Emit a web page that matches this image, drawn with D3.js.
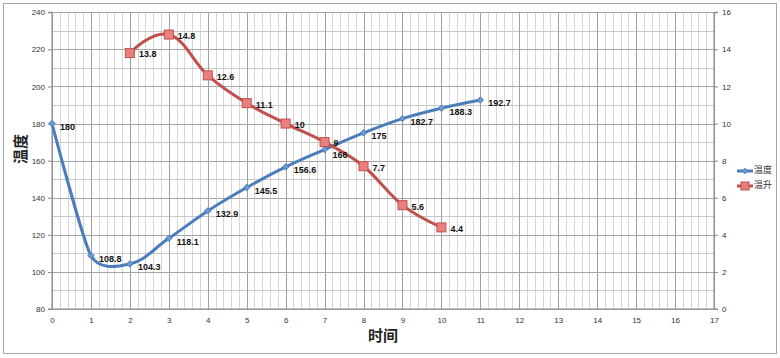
<!DOCTYPE html>
<html><head><meta charset="utf-8">
<script src="https://cdn.jsdelivr.net/npm/d3@7"></script>
<style>body{margin:0;background:#fff}svg{display:block}</style>
</head><body><svg id="c" width="780" height="358"></svg>
<script>
const xTicks = d3.range(0, 18);
const leftTicks = [80,100,120,140,160,180,200,220,240];
const rightTicks = [0,2,4,6,8,10,12,14,16];
const tempX = [0,1,2,3,4,5,6,7,8,9,10,11];
const tempY = [180,108.8,104.3,118.1,132.9,145.5,156.6,166,175,182.7,188.3,192.7];
const riseX = [2,3,4,5,6,7,8,9,10];
const riseY = [13.8,14.8,12.6,11.1,10,9,7.7,5.6,4.4];
const seriesNames = ["温度","温升"];
const xTitle = "时间", yTitle = "温度";

const svg = d3.select("#c");
const L = 52, R = 714, T = 12.3, B = 309;
const x = d3.scaleLinear().domain([0,17]).range([L,R]);
const yL = d3.scaleLinear().domain([80,240]).range([B,T]);
const yR = d3.scaleLinear().domain([0,16]).range([B,T]);
const font = "'Liberation Sans', Arial, sans-serif";
const cjk = "'Noto Sans CJK SC', sans-serif";

svg.append("rect").attr("x",3.5).attr("y",3.5).attr("width",773).attr("height",350)
  .attr("fill","#fff").attr("stroke","#a6a6a6").attr("stroke-width",1);

const g = svg.append("g");
const minorX = d3.range(0, 17*5+1).map(i=>i/5).filter(v=>Math.abs(v-Math.round(v))>1e-6);
g.selectAll(".mvx").data(minorX).enter().append("line")
  .attr("x1",d=>Math.round(x(d))+0.5).attr("x2",d=>Math.round(x(d))+0.5).attr("y1",T).attr("y2",B)
  .attr("stroke","#d6d6d6").attr("stroke-width",1);
const minorY = d3.range(90,240,20);
g.selectAll(".mhy").data(minorY).enter().append("line")
  .attr("x1",L).attr("x2",R).attr("y1",d=>Math.round(yL(d))+0.5).attr("y2",d=>Math.round(yL(d))+0.5)
  .attr("stroke","#c8c8c8").attr("stroke-width",1);
g.selectAll(".Mx").data(xTicks).enter().append("line")
  .attr("x1",d=>Math.round(x(d))+0.5).attr("x2",d=>Math.round(x(d))+0.5).attr("y1",T).attr("y2",B)
  .attr("stroke","#9f9f9f").attr("stroke-width",1);
g.selectAll(".My").data(leftTicks).enter().append("line")
  .attr("x1",L).attr("x2",R).attr("y1",d=>Math.round(yL(d))+0.5).attr("y2",d=>Math.round(yL(d))+0.5)
  .attr("stroke","#a6a6a6").attr("stroke-width",1);

const axL = d3.axisLeft(yL).tickValues(leftTicks).tickSize(4).tickPadding(3);
const axR = d3.axisRight(yR).tickValues(rightTicks).tickSize(4).tickPadding(4);
const axB = d3.axisBottom(x).tickValues(xTicks).tickSize(0).tickPadding(8);
function style(sel){
  sel.selectAll("path").attr("stroke","#868686");
  sel.selectAll("line").attr("stroke","#868686");
  sel.selectAll("text").attr("font-family",font).attr("font-size","8px").attr("fill","#333");
}
svg.append("g").attr("transform",`translate(${L},0)`).call(axL).call(s=>s.select(".domain").attr("d",`M-4,${T}H0V${B}H-4`)).call(style);
svg.append("g").attr("transform",`translate(${R},0)`).call(axR).call(s=>s.select(".domain").attr("d",`M4,${T}H0V${B}H4`)).call(style);
svg.append("g").attr("transform",`translate(0,${B})`).call(axB).call(s=>s.select(".domain").attr("d",`M${L},0H${R}`)).call(style);

svg.append("text").attr("transform",`translate(22,149) rotate(-90)`).attr("text-anchor","middle")
  .attr("dominant-baseline","middle")
  .attr("font-family",cjk).attr("font-size","15px").attr("font-weight","bold").attr("fill","#222").text(yTitle);
svg.append("text").attr("x",383).attr("y",341).attr("text-anchor","middle")
  .attr("font-family",cjk).attr("font-size","15px").attr("font-weight","bold").attr("fill","#222").text(xTitle);

// Excel-like smoothing: Bezier with tangent along neighbours, length scaled by shorter adjacent chord
function smooth(pts, s){
  const p = d3.path();
  const n = pts.length;
  const dist = (a,b)=>Math.hypot(b[0]-a[0], b[1]-a[1]);
  const ctrl = pts.map((pt,i)=>{
    if(i===0 || i===n-1) return {b:pt, f:pt};
    const a = pts[i-1], c = pts[i+1];
    const tx = c[0]-a[0], ty = c[1]-a[1], tl = Math.hypot(tx,ty);
    const m = s*Math.min(dist(a,pt), dist(pt,c));
    return {b:[pt[0]-tx/tl*m, pt[1]-ty/tl*m], f:[pt[0]+tx/tl*m, pt[1]+ty/tl*m]};
  });
  p.moveTo(pts[0][0], pts[0][1]);
  for(let i=1;i<n;i++){
    p.bezierCurveTo(ctrl[i-1].f[0], ctrl[i-1].f[1], ctrl[i].b[0], ctrl[i].b[1], pts[i][0], pts[i][1]);
  }
  return p.toString();
}
const tempPts = tempX.map((v,i)=>[x(v),yL(tempY[i])]);
const risePts = riseX.map((v,i)=>[x(v),yR(riseY[i])]);
svg.append("path").attr("d",smooth(tempPts,0.4)).attr("fill","none").attr("stroke","#4a7ebb").attr("stroke-width",3);
svg.append("path").attr("d",smooth(risePts,0.4)).attr("fill","none").attr("stroke","#c0504d").attr("stroke-width",3);

svg.selectAll(".td").data(tempPts).enter().append("path")
  .attr("transform",d=>`translate(${d[0]},${d[1]})`)
  .attr("d",d3.symbol().type(d3.symbolDiamond2).size(26)())
  .attr("fill","#6d9ad2").attr("stroke","#4a7ebb").attr("stroke-width",1);
svg.selectAll(".rs").data(risePts).enter().append("rect")
  .attr("x",d=>d[0]-4.5).attr("y",d=>d[1]-4.5).attr("width",9).attr("height",9)
  .attr("fill","#e9807d").attr("stroke","#c0504d").attr("stroke-width",1);

svg.selectAll(".tl").data(tempPts).enter().append("text")
  .attr("x",d=>d[0]+8).attr("y",(d,i)=>d[1]+ (i===7?6:4))
  .attr("dominant-baseline","middle")
  .attr("font-family",font).attr("font-size","9px").attr("font-weight","bold").attr("fill","#111")
  .text((d,i)=>tempY[i]);
svg.selectAll(".rl").data(risePts).enter().append("text")
  .attr("x",d=>d[0]+9).attr("y",(d,i)=>d[1]+2)
  .attr("dominant-baseline","middle")
  .attr("font-family",font).attr("font-size","9px").attr("font-weight","bold").attr("fill","#111")
  .text((d,i)=>riseY[i]);

const lg = svg.append("g");
[["#4a7ebb","#6d9ad2"],["#c0504d","#e9807d"]].forEach((c,i)=>{
  const yy = 171 + i*15;
  lg.append("line").attr("x1",737).attr("x2",753).attr("y1",yy).attr("y2",yy).attr("stroke",c[0]).attr("stroke-width",3);
  if(i===0) lg.append("path").attr("transform",`translate(745,${yy})`).attr("d",d3.symbol().type(d3.symbolDiamond2).size(20)()).attr("fill",c[1]).attr("stroke",c[0]);
  else lg.append("rect").attr("x",741).attr("y",yy-4).attr("width",8).attr("height",8).attr("fill",c[1]).attr("stroke",c[0]);
  lg.append("text").attr("x",754).attr("y",yy).attr("dominant-baseline","middle")
    .attr("font-family",cjk).attr("font-size","9px").attr("fill","#333").text(seriesNames[i]);
});
</script></body></html>
